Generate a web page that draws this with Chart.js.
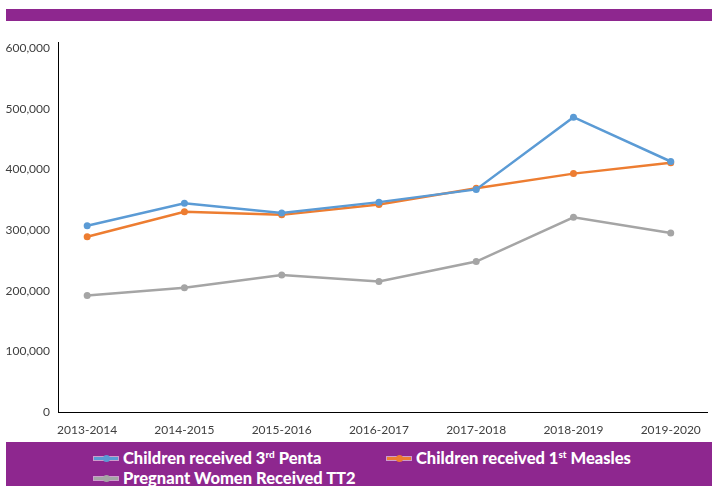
<!DOCTYPE html>
<html>
<head>
<meta charset="utf-8">
<script src="https://cdn.jsdelivr.net/npm/chart.js@4.4.1/dist/chart.umd.min.js"></script>
<style>
    html, body { margin: 0; padding: 0; background: #fff; }
    #wrap { position: relative; width: 712px; height: 486px; overflow: hidden; }
    #chart { position: absolute; left: 0; top: 0; }
    .band { position: absolute; left: 6px; right: 0; background: #8e278f; }
    #topBand { top: 9px; height: 12px; }
    #bottomBand { top: 442px; height: 44px; }
    .item {
        position: absolute; color: #fff; white-space: nowrap;
        font: 900 16.5px "Lato", sans-serif; line-height: 19px;
    }
    .item sup { font-size: 10px; line-height: 0; vertical-align: 6px; }
    .swatch {
        display: inline-block; position: relative; width: 24px; height: 19px;
        margin-right: 5px; vertical-align: top;
    }
    .swatch::before {
        content: ""; position: absolute; left: 0; right: 0; top: 8px; height: 3px;
        background: var(--c); box-shadow: 0 0 0 1px rgba(255,255,255,0.55);
    }
    .swatch::after {
        content: ""; position: absolute; left: 9px; top: 6px; width: 7px; height: 7px;
        border-radius: 50%; background: var(--c);
    }
</style>
</head>
<body>
<div id="wrap">
    <canvas id="chart" width="712" height="486"></canvas>
    <div class="band" id="topBand"></div>
    <div class="band" id="bottomBand">
        <div class="item" style="left:88px;top:7px"><span class="swatch" style="--c:#5b9bd5"></span>Children received 3<sup>rd</sup> Penta</div>
        <div class="item" style="left:381px;top:7px"><span class="swatch" style="--c:#ed7d31"></span>Children received 1<sup>st</sup> Measles</div>
        <div class="item" style="left:88px;top:27px"><span class="swatch" style="--c:#a5a5a5"></span>Pregnant Women Received TT2</div>
    </div>
</div>
<script>
// fiscal years on the x axis
const years = ["2013-2014", "2014-2015", "2015-2016", "2016-2017", "2017-2018", "2018-2019", "2019-2020"];

const penta3 = [307000, 344000, 328000, 346000, 367000, 486000, 413000];
const measles1 = [289000, 330000, 325000, 342000, 369000, 393000, 411000];
const tt2 = [192000, 205000, 226000, 215000, 248000, 321000, 295000];

const yTicks = [0, 100000, 200000, 300000, 400000, 500000, 600000];

const toPoints = (arr) => arr.map((v, i) => ({ x: i, y: v }));

const lineStyle = (label, data, color) => ({
    label,
    data: toPoints(data),
    borderColor: color,
    backgroundColor: color,
    borderWidth: 2.5,
    pointRadius: 3.5,
    pointHoverRadius: 3.5,
    pointBorderWidth: 0,
    tension: 0,
});

new Chart(document.getElementById("chart"), {
    type: "line",
    data: {
        datasets: [
            lineStyle("Children received 3rd Penta", penta3, "#5b9bd5"),
            lineStyle("Children received 1st Measles", measles1, "#ed7d31"),
            lineStyle("Pregnant Women Received TT2", tt2, "#a5a5a5"),
        ],
    },
    options: {
        responsive: false,
        animation: false,
        layout: { padding: { left: 0, right: 0, top: 42, bottom: 44 } },
        plugins: {
            legend: { display: false },
            tooltip: { enabled: false },
        },
        scales: {
            x: {
                type: "linear",
                min: -0.3,
                max: 6.38,
                afterBuildTicks: (s) => { s.ticks = years.map((_, i) => ({ value: i })); },
                afterFit: (s) => { s.height = 30; },
                grid: { display: false, drawTicks: false },
                border: { color: "#000", width: 1 },
                ticks: {
                    padding: 11,
                    color: "#404040",
                    font: { family: "Lato", size: 12 },
                    maxRotation: 0,
                    callback: (v) => years[v] ?? "",
                },
            },
            y: {
                min: 0,
                max: 610000,
                afterBuildTicks: (s) => { s.ticks = yTicks.map((v) => ({ value: v })); },
                afterFit: (s) => { s.width = 58; },
                grid: { display: false, drawTicks: false },
                border: { color: "#000", width: 1 },
                ticks: {
                    padding: 8,
                    color: "#404040",
                    font: { family: "Lato", size: 12 },
                    callback: (v) => v.toLocaleString("en-US"),
                },
            },
        },
    },
});
</script>
</body>
</html>
